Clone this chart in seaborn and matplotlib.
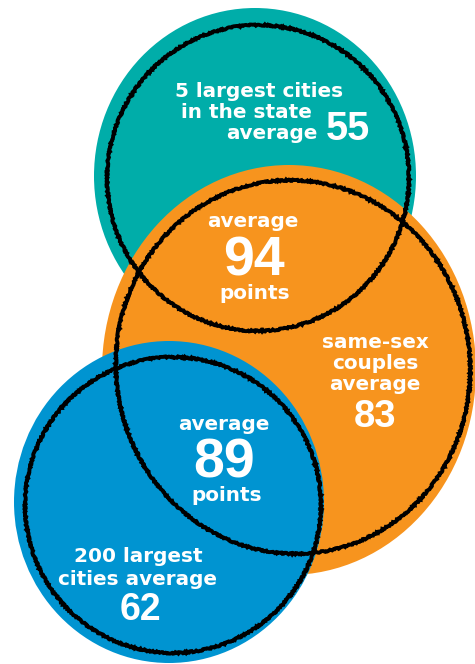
import matplotlib
matplotlib.use("Agg")
import matplotlib.pyplot as plt
from matplotlib.patches import Ellipse
import seaborn as sns

# Группы и их средние значения
groups = ["5 largest cities\nin the state\naverage", "same-sex\ncouples\naverage", "200 largest\ncities average"]
group_values = [55, 83, 62]
overlap_values = [94, 89]
overlap_word_top = "average"
overlap_word_bottom = "points"
fill_colors = ["#00ADA9", "#F7941E", "#0094D1"]

sns.set_theme(style="white")
plt.rcParams['font.family'] = ['DejaVu Sans']

W, H = 475, 664
fig = plt.figure(figsize=(W / 100, H / 100), dpi=100)
ax = fig.add_axes([0, 0, 1, 1])
ax.set_xlim(0, W)
ax.set_ylim(H, 0)
ax.set_axis_off()

# Заливка кругов (центр x, центр y, ширина, высота)
fills = [(255, 176, 322, 336), (289, 370, 374, 410), (169, 502, 310, 322)]
for (cx, cy, w, h), color in zip(fills, fill_colors):
    ax.add_patch(Ellipse((cx, cy), w, h, facecolor=color, edgecolor='none', zorder=1))

# Нарисованные от руки контуры
outlines = [(258, 178, 302, 306, 5), (293, 367, 354, 374, -8), (173, 505, 296, 296, 0)]
for cx, cy, w, h, ang in outlines:
    e = Ellipse((cx, cy), w, h, angle=ang, facecolor='none', edgecolor='black', lw=2.8, zorder=3)
    e.set_sketch_params(scale=0.7, length=3, randomness=6)
    ax.add_patch(e)

small = 14.4
txt = dict(color='white', zorder=5, fontweight='bold', fontsize=small,
           family=['DejaVu Sans'], va='baseline')
num = dict(color='white', zorder=5, fontweight='bold',
           family=['Liberation Sans', 'DejaVu Sans'], va='baseline')

def lines(text, x, baselines, ha='center'):
    for line, y in zip(text.split('\n'), baselines):
        ax.text(x, y, line, ha=ha, **txt)

# Верхний круг
top = groups[0].split('\n')
ax.text(259, 97, top[0], ha='center', **txt)
ax.text(246, 118, top[1], ha='center', **txt)
ax.text(272, 139, top[2], ha='center', **txt)
ax.text(326, 140, str(group_values[0]), ha='left', fontsize=28.5, **num)

# Пересечение верхнего и оранжевого
ax.text(253, 227, overlap_word_top, ha='center', **txt)
ax.text(254, 275, str(overlap_values[0]), ha='center', fontsize=40, **num)
ax.text(255, 299, overlap_word_bottom, ha='center', **txt)

# Оранжевый круг
lines(groups[1], 375, [348, 369, 390])
ax.text(375, 427, str(group_values[1]), ha='center', fontsize=27.5, **num)

# Пересечение синего и оранжевого
ax.text(224, 430, overlap_word_top, ha='center', **txt)
ax.text(224, 478, str(overlap_values[1]), ha='center', fontsize=40, **num)
ax.text(227, 501, overlap_word_bottom, ha='center', **txt)

# Синий круг
lines(groups[2], 138, [562, 585])
ax.text(140, 620, str(group_values[2]), ha='center', fontsize=27, **num)

fig.savefig("out.png", dpi=100, facecolor='white')
